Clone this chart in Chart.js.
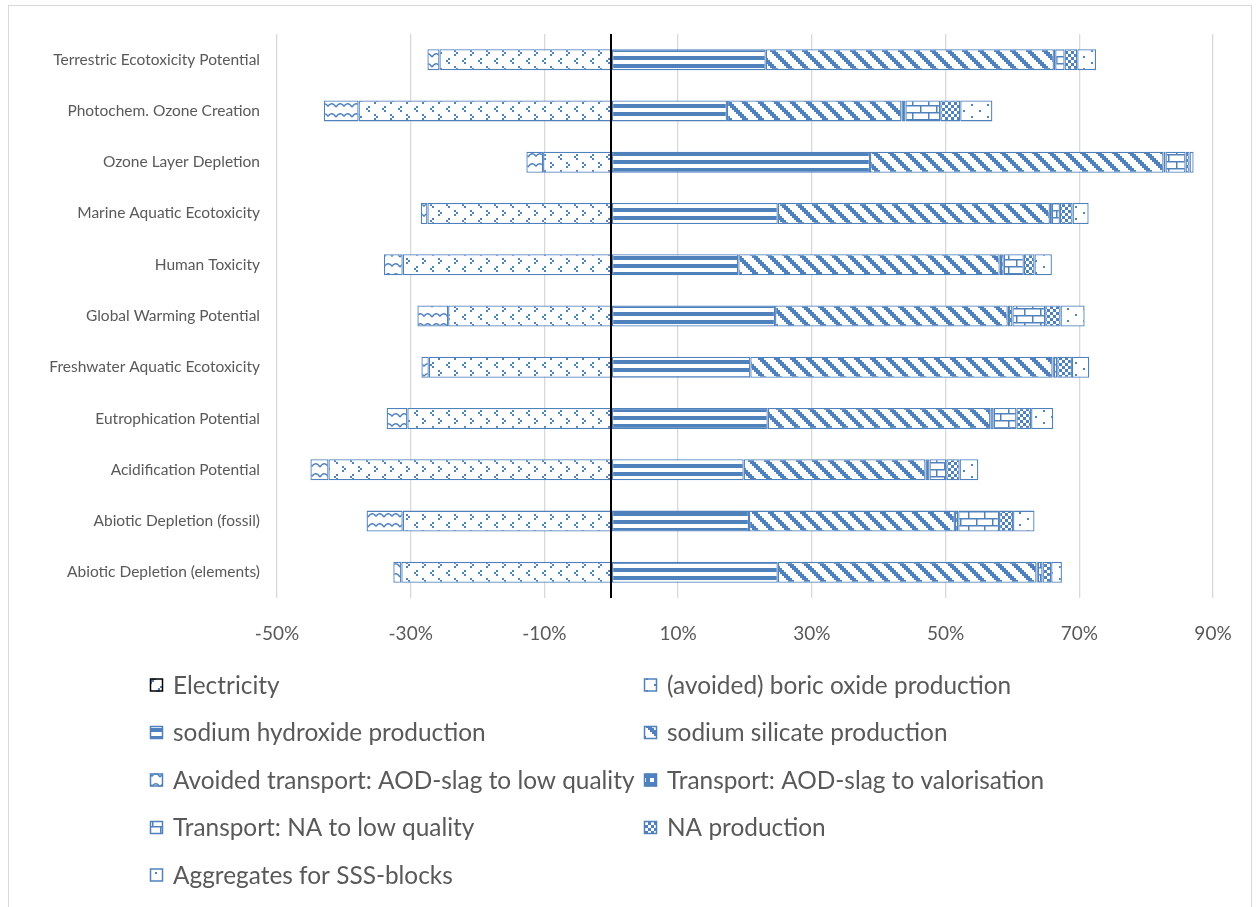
<!DOCTYPE html>
<html>
<head>
<meta charset="utf-8">
<title>Environmental impact contributions</title>
<script src="https://cdn.jsdelivr.net/npm/chart.js@4.4.0/dist/chart.umd.min.js"></script>
<style>
  html, body { margin: 0; padding: 0; background: #ffffff; }
  #wrap { width: 1260px; height: 907px; position: relative; }
</style>
</head>
<body>
<div id="wrap"><canvas id="chart" width="1260" height="907"></canvas></div>
<script>
// Impact categories, listed top to bottom
const categories = [
  'Terrestric Ecotoxicity Potential',
  'Photochem. Ozone Creation',
  'Ozone Layer Depletion',
  'Marine Aquatic Ecotoxicity',
  'Human Toxicity',
  'Global Warming Potential',
  'Freshwater Aquatic Ecotoxicity',
  'Eutrophication Potential',
  'Acidification Potential',
  'Abiotic Depletion (fossil)',
  'Abiotic Depletion (elements)'
];

// Contribution of each process, in percent
const electricity       = [0.1, 0.1, 0.1, 0.1, 0.1, 0.1, 0.1, 0.1, 0.1, 0.1, 0.1];
const boricOxide        = [-25.7, -37.8, -10.2, -27.5, -31.2, -24.4, -27.3, -30.5, -42.3, -31.2, -31.4];
const sodiumHydroxide   = [23.0, 17.2, 38.6, 24.8, 18.9, 24.4, 20.7, 23.3, 19.7, 20.5, 24.8];
const sodiumSilicate    = [43.1, 26.1, 43.9, 40.7, 39.1, 34.8, 45.2, 33.3, 27.2, 30.8, 38.7];
const avoidedTransport  = [-1.8, -5.2, -2.5, -1.0, -2.8, -4.6, -1.1, -3.1, -2.7, -5.4, -1.2];
const transportAodSlag  = [0.2, 0.6, 0.3, 0.3, 0.6, 0.7, 0.2, 0.5, 0.6, 0.5, 0.2];
const transportNa       = [1.4, 5.2, 3.0, 1.2, 3.0, 4.9, 0.5, 3.4, 2.5, 6.1, 0.7];
const naProduction      = [1.9, 3.0, 0.6, 1.9, 1.6, 2.3, 2.2, 2.2, 2.0, 2.1, 1.3];
const aggregates        = [2.8, 4.8, 0.6, 2.4, 2.6, 3.6, 2.6, 3.3, 2.8, 3.2, 1.6];

const seriesLabels = [
  'Electricity',
  '(avoided) boric oxide production',
  'sodium hydroxide production',
  'sodium silicate production',
  'Avoided transport: AOD-slag to low quality',
  'Transport: AOD-slag to valorisation',
  'Transport: NA to low quality',
  'NA production',
  'Aggregates for SSS-blocks'
];

// Axis ticks (percent)
const xMin = -50, xMax = 90, xStep = 20;

const BLUE = '#4F81BD';
const TEXT = '#595959';
const FONT = 'Lato, "Open Sans", sans-serif';

// ---- hatch patterns ----
function makeTile(w, h, draw) {
  const c = document.createElement('canvas');
  c.width = w; c.height = h;
  const g = c.getContext('2d');
  g.fillStyle = '#ffffff';
  g.fillRect(0, 0, w, h);
  g.fillStyle = BLUE;
  g.strokeStyle = BLUE;
  draw(g, w, h);
  return c;
}
// bitmap painted at a cell size of s pixels
function bitmapTile(rows, s) {
  const h = rows.length, w = rows[0].length;
  return makeTile(w * s, h * s, g => {
    rows.forEach((r, y) => {
      for (let x = 0; x < w; x++) if (r[x] === '#') g.fillRect(x * s, y * s, s, s);
    });
  });
}
const ctx0 = document.getElementById('chart').getContext('2d');
const pat = t => ctx0.createPattern(t, 'repeat');

const patterns = {
  electricity: pat(bitmapTile([
    '.......#', '......##', '.....##.', '....##..',
    '...##...', '..##....', '.##.....', '##......'], 2)),
  divot: pat(bitmapTile([
    '........', '...#....', '....#...', '...#....',
    '........', '#.......', '.......#', '#.......'], 2)),
  horizontal: pat(bitmapTile([
    '########', '########', '........', '........'], 2)),
  downDiagonal: pat(bitmapTile([
    '###.....', '.###....', '..###...', '...###..',
    '....###.', '.....###', '#.....##', '##.....#'], 2)),
  wave: pat(makeTile(16, 10, g => {
    g.lineWidth = 1.5;
    g.beginPath();
    g.moveTo(0, 7);
    g.quadraticCurveTo(4, 1, 8, 6);
    g.quadraticCurveTo(12, 1, 16, 7);
    g.stroke();
  })),
  solidGrid: pat(bitmapTile([
    '####', '#..#', '#..#', '####'], 2)),
  brick: pat(makeTile(16, 14, g => {
    g.fillRect(0, 0, 16, 1.5);
    g.fillRect(0, 7, 16, 1.5);
    g.fillRect(0, 0, 1.5, 7);
    g.fillRect(8, 7, 1.5, 7);
  })),
  checker: pat(makeTile(6, 6, g => {
    g.fillRect(0, 0, 3, 3);
    g.fillRect(3, 3, 3, 3);
  })),
  sparseDots: pat(makeTile(16, 12, g => {
    g.fillRect(3, 2, 2, 2);
    g.fillRect(11, 8, 2, 2);
  }))
};

function series(label, data, fill, border) {
  return {
    label, data,
    backgroundColor: fill,
    borderColor: border || BLUE,
    borderWidth: 1.3,
    borderSkipped: false,
    stack: 'impact'
  };
}

const datasets = [
  series(seriesLabels[0], electricity, patterns.electricity, '#000000'),
  series(seriesLabels[1], boricOxide, patterns.divot),
  series(seriesLabels[2], sodiumHydroxide, patterns.horizontal),
  series(seriesLabels[3], sodiumSilicate, patterns.downDiagonal),
  series(seriesLabels[4], avoidedTransport, patterns.wave),
  series(seriesLabels[5], transportAodSlag, patterns.solidGrid),
  series(seriesLabels[6], transportNa, patterns.brick),
  series(seriesLabels[7], naProduction, patterns.checker),
  series(seriesLabels[8], aggregates, patterns.sparseDots)
];

// Outer frame, zero line and two-column legend
const decorations = {
  id: 'decorations',
  beforeDraw(chart) {
    const g = chart.ctx;
    g.save();
    g.strokeStyle = '#D9D9D9';
    g.lineWidth = 1;
    g.strokeRect(8.5, 5.5, 1243, 940);
    g.restore();
  },
  afterDatasetsDraw(chart) {
    const g = chart.ctx;
    const x = Math.round(chart.scales.x.getPixelForValue(0));
    const a = chart.chartArea;
    g.save();
    g.strokeStyle = '#000000';
    g.lineWidth = 2;
    g.beginPath();
    g.moveTo(x, a.top);
    g.lineTo(x, a.bottom);
    g.stroke();
    g.restore();
  },
  afterDraw(chart) {
    const g = chart.ctx;
    const colX = [150, 644];
    const rowY0 = 685, rowGap = 47.5, box = 13;
    g.save();
    g.font = '24.4px ' + FONT;
    g.textBaseline = 'middle';
    g.textAlign = 'left';
    chart.data.datasets.forEach((ds, i) => {
      const x = colX[i % 2];
      const y = rowY0 + Math.floor(i / 2) * rowGap;
      g.fillStyle = ds.backgroundColor;
      g.fillRect(x, y - box / 2, box, box);
      g.strokeStyle = ds.borderColor;
      g.lineWidth = 1.5;
      g.strokeRect(x + 0.5, y - box / 2 + 0.5, box - 1, box - 1);
      g.fillStyle = TEXT;
      g.fillText(ds.label, x + 23, y + 1);
    });
    g.restore();
  }
};

new Chart(document.getElementById('chart'), {
  type: 'bar',
  data: { labels: categories, datasets },
  options: {
    indexAxis: 'y',
    responsive: false,
    animation: false,
    events: [],
    layout: { padding: { top: 34, right: 47, bottom: 259, left: 0 } },
    datasets: { bar: { categoryPercentage: 1, barPercentage: 0.41 } },
    plugins: { legend: { display: false }, tooltip: { enabled: false } },
    scales: {
      x: {
        stacked: true,
        min: xMin, max: xMax,
        afterFit(scale) { scale.height = 50; },
        border: { display: false },
        grid: { color: '#D9D9D9', lineWidth: 1.3, drawTicks: false },
        ticks: {
          stepSize: xStep,
          padding: 24,
          color: TEXT,
          font: { family: FONT, size: 19 },
          callback: v => v + '%'
        }
      },
      y: {
        stacked: true,
        afterFit(scale) { scale.width = 277; },
        border: { display: false },
        grid: { display: false, drawTicks: false },
        ticks: {
          padding: 17,
          color: TEXT,
          font: { family: FONT, size: 15.5 }
        }
      }
    }
  },
  plugins: [decorations]
});
</script>
</body>
</html>
